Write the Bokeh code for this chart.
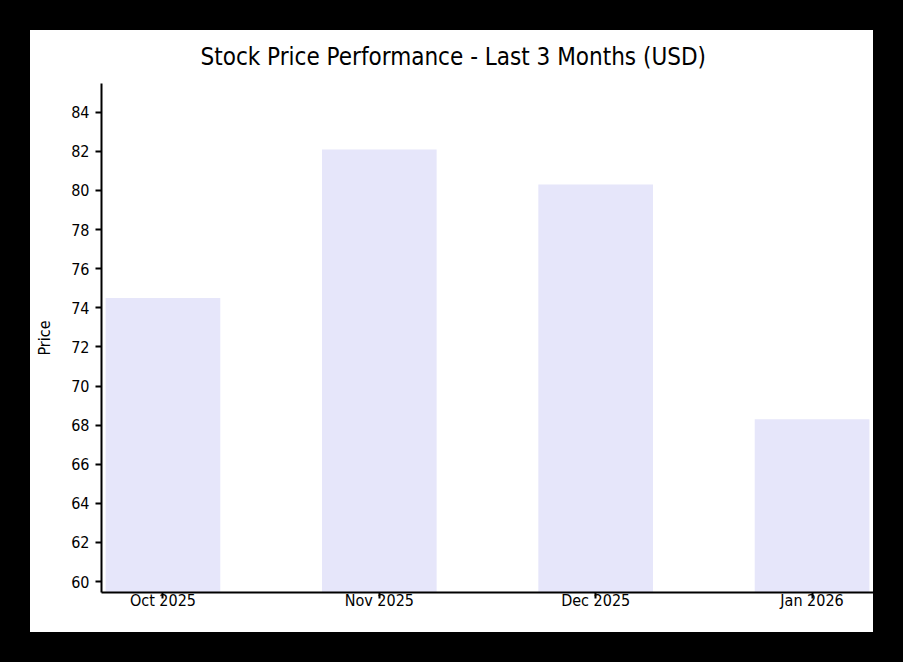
from bokeh.plotting import figure
from bokeh.models import FactorRange, Range1d, FixedTicker
from bokeh.embed import file_html
from bokeh.resources import INLINE

# ---- data ----
months = ["Oct 2025", "Nov 2025", "Dec 2025", "Jan 2026"]
prices = [74.5, 82.1, 80.3, 68.3]
y_ticks = [60, 62, 64, 66, 68, 70, 72, 74, 76, 78, 80, 82, 84]
title_text = "Stock Price Performance - Last 3 Months (USD)"
y_label = "Price"

FONT = "DejaVu Sans Condensed"

p = figure(
    x_range=FactorRange(factors=months, range_padding=-0.108, range_padding_units="percent"),
    y_range=Range1d(59.44, 85.47),
    width=843, height=602,
    output_backend="svg", toolbar_location=None,
    min_border_left=71, min_border_right=0, min_border_top=53, min_border_bottom=40,
)
p.styles = {"background-color": "white"}
p.background_fill_color = "white"
p.border_fill_color = "white"
p.outline_line_color = None
p.xgrid.visible = False
p.ygrid.visible = False

p.title.text = title_text
p.title.align = "left"
p.title.offset = 99
p.title.vertical_align = "top"
p.title.standoff = 21
p.title.text_font = FONT
p.title.text_font_size = "24px"
p.title.text_font_style = "normal"
p.title.text_color = "black"
p.title.border_line_color = None
p.title.background_fill_color = None

p.vbar(x=months, top=prices, bottom=0, width=0.53, fill_color="lavender", line_color=None)

for ax in (p.xaxis, p.yaxis):
    ax.axis_line_color = "black"
    ax.axis_line_width = 2
    ax.major_tick_line_color = "black"
    ax.major_tick_line_width = 2
    ax.major_tick_in = 0
    ax.major_tick_out = 6
    ax.minor_tick_line_color = None
    ax.major_label_text_font = FONT
    ax.major_label_text_font_size = "16px"
    ax.major_label_text_color = "black"

p.xaxis.major_label_standoff = -8
p.yaxis.major_label_standoff = 6
p.yaxis.ticker = FixedTicker(ticks=y_ticks)

p.yaxis.axis_label = y_label
p.yaxis.axis_label_text_font = FONT
p.yaxis.axis_label_text_font_size = "16px"
p.yaxis.axis_label_text_font_style = "normal"
p.yaxis.axis_label_text_color = "black"
p.yaxis.axis_label_standoff = 14

html = file_html(p, INLINE)
html = html.replace("</head>", "<style>html,body{background:#000;} body{margin:0;padding:30px 0 0 30px;}</style></head>", 1)
open("out.html", "w").write(html)
